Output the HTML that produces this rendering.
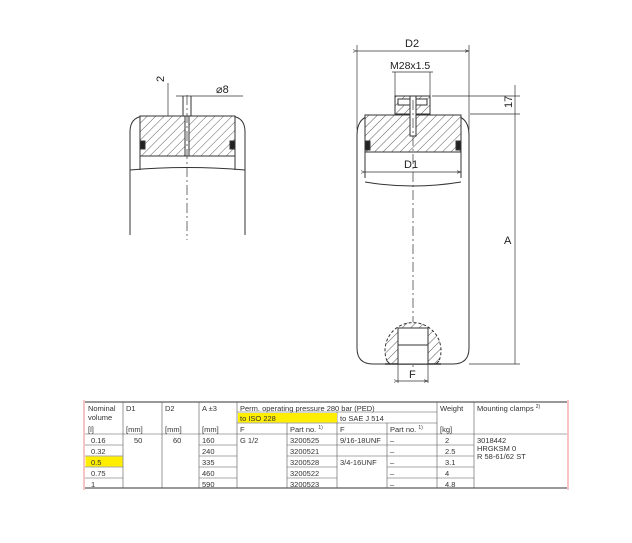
<!DOCTYPE html>
<html><head><meta charset="utf-8"><style>
html,body{margin:0;padding:0;background:#fff;}
svg{display:block;font-family:"Liberation Sans",sans-serif;}
</style></head><body>
<svg width="632" height="543" viewBox="0 0 632 543" xmlns="http://www.w3.org/2000/svg">
<defs>
<pattern id="h" width="6" height="6" patternUnits="userSpaceOnUse" patternTransform="rotate(45)">
<rect width="6" height="6" fill="#fff"/><line x1="0" y1="0" x2="0" y2="6" stroke="#333" stroke-width="0.8"/></pattern>
<marker id="a" markerWidth="6" markerHeight="6" refX="6" refY="3" orient="auto"><path d="M0,1 L6,3 L0,5" fill="none" stroke="#333" stroke-width="0.8"/></marker>
<clipPath id="bc"><rect x="350" y="300" width="130" height="64"/></clipPath>
</defs>
<g stroke="#333" stroke-width="1" fill="none">
<!-- LEFT DRAWING -->
<path d="M130,235 V132 Q130,116 146,116 H229 Q245,116 245,132 V235"/>
<rect x="140" y="116" width="95" height="40" fill="url(#h)"/>
<line x1="140" y1="156" x2="235" y2="156"/>
<line x1="140" y1="116" x2="140" y2="170"/><line x1="235" y1="116" x2="235" y2="170"/>
<rect x="140" y="141" width="5" height="8" fill="#222"/><rect x="230" y="141" width="5" height="8" fill="#222"/>
<path d="M130,170 Q187,165 245,170"/>
<rect x="185" y="116" width="4" height="40" fill="#fff"/>
<line x1="187" y1="95" x2="187" y2="240" stroke-dasharray="10,3,2,3" stroke-width="0.7"/>
<line x1="183" y1="96" x2="183" y2="116"/><line x1="191" y1="96" x2="191" y2="116"/>
<line x1="176" y1="96" x2="243" y2="96" stroke-width="0.7"/>
<line x1="168" y1="83" x2="168" y2="116" stroke-width="0.7"/>
<!-- RIGHT DRAWING -->
<line x1="357" y1="45" x2="357" y2="130" stroke-width="0.7"/><line x1="469" y1="45" x2="469" y2="130" stroke-width="0.7"/>
<line x1="357" y1="51" x2="469" y2="51" stroke-width="0.7" marker-end="url(#a)" marker-start="url(#a)"/>
<line x1="395" y1="72" x2="395" y2="96" stroke-width="0.7"/><line x1="430" y1="72" x2="430" y2="96" stroke-width="0.7"/>
<line x1="392" y1="72" x2="433" y2="72" stroke-width="0.7"/>
<path d="M357,348 V135 Q357,115 376,115 H450 Q469,115 469,135 V348 Q469,364 453,364 H373 Q357,364 357,348"/>
<rect x="365" y="115" width="96" height="37" fill="url(#h)"/>
<line x1="365" y1="115" x2="365" y2="178"/><line x1="461" y1="115" x2="461" y2="178"/>
<line x1="365" y1="152" x2="461" y2="152"/>
<rect x="365" y="141" width="5" height="9" fill="#222"/><rect x="456" y="141" width="5" height="9" fill="#222"/>
<path d="M365,182 Q413,190 461,182"/>
<rect x="395" y="96" width="35" height="18" fill="url(#h)"/>
<rect x="398" y="99" width="29" height="6" fill="#fff"/>
<rect x="410" y="96" width="6" height="40" fill="#fff"/>
<line x1="432" y1="96" x2="520" y2="96" stroke-width="0.7"/><line x1="470" y1="114" x2="520" y2="114" stroke-width="0.7"/>
<line x1="515" y1="85" x2="515" y2="364" stroke-width="0.7"/>
<line x1="469" y1="364" x2="520" y2="364" stroke-width="0.7"/>
<line x1="365" y1="172" x2="461" y2="172" stroke-width="0.7" marker-end="url(#a)" marker-start="url(#a)"/>
<line x1="413" y1="100" x2="413" y2="370" stroke-dasharray="10,3,2,3" stroke-width="0.7"/>
<circle cx="413" cy="350" r="28" fill="url(#h)" clip-path="url(#bc)" stroke="none"/>
<path d="M387,361 A28,28 0 1 1 439,361" stroke-dasharray="3,2"/>
<path d="M387,361 L390,364 M439,361 L436,364"/>
<line x1="385" y1="364" x2="441" y2="364" stroke-width="1.5"/>
<rect x="398" y="328" width="30" height="36" fill="#fff"/>
<line x1="398" y1="345" x2="428" y2="345"/>
<line x1="398" y1="364" x2="398" y2="383" stroke-width="0.7"/><line x1="428" y1="364" x2="428" y2="383" stroke-width="0.7"/>
<line x1="398" y1="381" x2="428" y2="381" stroke-width="0.7" marker-end="url(#a)" marker-start="url(#a)"/>
</g>
<g font-size="11" fill="#222">
<text x="172" y="90" transform="rotate(-90 164 90)">2</text>
<text x="216" y="93">⌀8</text>
<text x="405" y="47">D2</text>
<text x="390" y="69" font-size="10.5">M28x1.5</text>
<text x="404" y="168">D1</text>
<text x="512" y="108" transform="rotate(-90 512 108)">17</text>
<text x="504" y="244">A</text>
<text x="409" y="378">F</text>
</g>
<!-- TABLE -->
<g stroke="#555" stroke-width="0.6" fill="none">
<line x1="84" y1="400" x2="84" y2="490" stroke="#e88" stroke-width="1"/>
<line x1="568" y1="400" x2="568" y2="490" stroke="#e88" stroke-width="1"/>
<line x1="85" y1="402" x2="567" y2="402" stroke="#333" stroke-width="1"/>
<line x1="85" y1="488" x2="567" y2="488" stroke="#333" stroke-width="1"/>
<line x1="237" y1="412" x2="437" y2="412"/>
<line x1="237" y1="423" x2="437" y2="423"/>
<line x1="85" y1="434" x2="567" y2="434"/>
<line x1="85" y1="445" x2="123" y2="445"/><line x1="199" y1="445" x2="237" y2="445"/><line x1="287" y1="445" x2="474" y2="445"/>
<line x1="85" y1="456" x2="123" y2="456"/><line x1="199" y1="456" x2="237" y2="456"/><line x1="287" y1="456" x2="474" y2="456"/>
<line x1="85" y1="467" x2="123" y2="467"/><line x1="199" y1="467" x2="237" y2="467"/><line x1="287" y1="467" x2="337" y2="467"/><line x1="387" y1="467" x2="474" y2="467"/>
<line x1="85" y1="478" x2="123" y2="478"/><line x1="199" y1="478" x2="237" y2="478"/><line x1="287" y1="478" x2="337" y2="478"/><line x1="387" y1="478" x2="474" y2="478"/>
<line x1="123" y1="402" x2="123" y2="488"/><line x1="162" y1="402" x2="162" y2="488"/>
<line x1="199" y1="402" x2="199" y2="488"/><line x1="237" y1="402" x2="237" y2="488"/>
<line x1="287" y1="423" x2="287" y2="488"/><line x1="337" y1="412" x2="337" y2="488"/>
<line x1="387" y1="423" x2="387" y2="488"/><line x1="437" y1="402" x2="437" y2="488"/>
<line x1="474" y1="402" x2="474" y2="488"/>
</g>
<rect x="238" y="413" width="99" height="9.5" fill="#ffee00"/>
<rect x="85.5" y="456.5" width="37" height="10" fill="#ffee00"/>
<g font-size="7.5" fill="#333">
<text x="88" y="411">Nominal</text><text x="88" y="420">volume</text>
<text x="126" y="411">D1</text><text x="165" y="411">D2</text><text x="202" y="411">A ±3</text>
<text x="240" y="411">Perm. operating pressure 280 bar (PED)</text>
<text x="440" y="411">Weight</text><text x="477" y="411">Mounting clamps <tspan font-size="5" dy="-3">2)</tspan></text>
<text x="240" y="421">to ISO 228</text><text x="340" y="421">to SAE J 514</text>
<text x="88" y="432">[l]</text><text x="126" y="432">[mm]</text><text x="165" y="432">[mm]</text><text x="202" y="432">[mm]</text>
<text x="240" y="432">F</text><text x="290" y="432">Part no. <tspan font-size="5" dy="-3">1)</tspan></text>
<text x="340" y="432">F</text><text x="390" y="432">Part no. <tspan font-size="5" dy="-3">1)</tspan></text>
<text x="440" y="432">[kg]</text>
<text x="91" y="443">0.16</text><text x="91" y="454">0.32</text><text x="91" y="465">0.5</text><text x="91" y="476">0.75</text><text x="91" y="487">1</text>
<text x="134" y="443">50</text><text x="173" y="443">60</text>
<text x="202" y="443">160</text><text x="202" y="454">240</text><text x="202" y="465">335</text><text x="202" y="476">460</text><text x="202" y="487">590</text>
<text x="240" y="443">G 1/2</text>
<text x="290" y="443">3200525</text><text x="290" y="454">3200521</text><text x="290" y="465">3200528</text><text x="290" y="476">3200522</text><text x="290" y="487">3200523</text>
<text x="340" y="443">9/16-18UNF</text><text x="340" y="465">3/4-16UNF</text>
<text x="390" y="443">–</text><text x="390" y="454">–</text><text x="390" y="465">–</text><text x="390" y="476">–</text><text x="390" y="487">–</text>
<text x="445" y="443">2</text><text x="445" y="454">2.5</text><text x="445" y="465">3.1</text><text x="445" y="476">4</text><text x="445" y="487">4.8</text>
<text x="477" y="443">3018442</text><text x="477" y="451">HRGKSM 0</text><text x="477" y="459">R 58-61/62 ST</text>
</g>
</svg>
</body></html>
